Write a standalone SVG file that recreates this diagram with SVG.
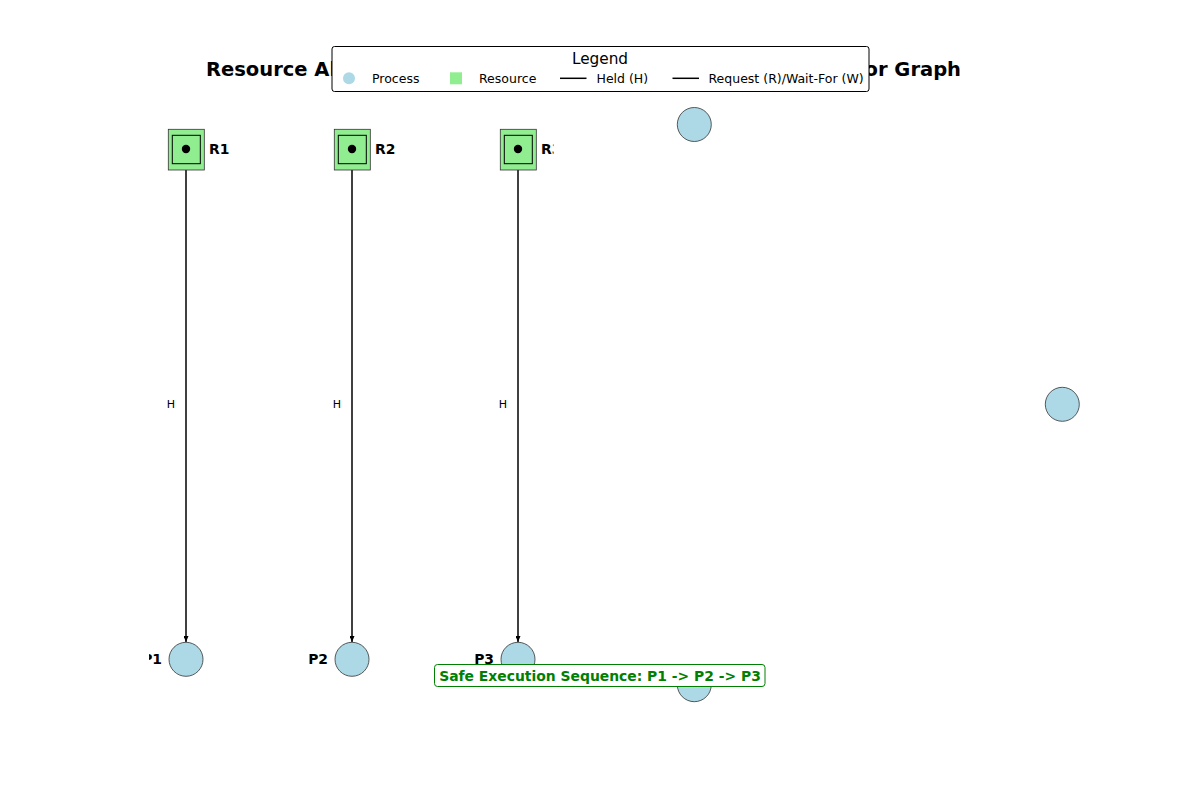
<svg xmlns="http://www.w3.org/2000/svg" width="1200" height="800" viewBox="0 0 1200 800">
<style>
  .title { font-family: "DejaVu Sans", sans-serif; font-weight: bold; font-size: 19.5px; fill: #000; }
  .lbl { font-family: "DejaVu Sans", sans-serif; font-weight: bold; font-size: 13.9px; fill: #000; }
  .elbl { font-family: "DejaVu Sans", sans-serif; font-size: 11.1px; fill: #000; }
  .leg { font-family: "DejaVu Sans", sans-serif; font-size: 12.5px; fill: #000; }
  .legt { font-family: "DejaVu Sans", sans-serif; font-size: 15.3px; fill: #000; }
  .proc { fill: #add8e6; stroke: #333; stroke-width: 0.8; }
  .resout { fill: #90ee90; stroke: #333; stroke-width: 0.8; }
  .resin { fill: #90ee90; stroke: #000; stroke-width: 1; }
  .edge { stroke: #000; stroke-width: 1.5; fill: none; marker-end: url(#arr); }
  .safe { font-family: "DejaVu Sans", sans-serif; font-weight: bold; font-size: 13.9px; fill: #008000; }
</style>
<defs>
  <marker id="arr" viewBox="0 0 6 5" refX="6" refY="2.5" markerWidth="6" markerHeight="5" markerUnits="userSpaceOnUse" orient="auto">
    <path d="M0,0 L6,2.5 L0,5 Z" fill="#000"/>
  </marker>
  <clipPath id="leftAx"><rect x="149" y="0" width="404.5" height="800"/></clipPath>
</defs>
<rect width="1200" height="800" fill="#fff"/>

<g id="titles">
  <text class="title" x="206" y="75.5">Resource Allocation Graph</text>
  <text class="title" x="961" y="75.5" text-anchor="end">Wait-For Graph</text>
</g>

<g id="rag" clip-path="url(#leftAx)">
  <g id="connectors">
    <line class="edge" x1="186" y1="164" x2="186" y2="642"/>
    <text class="elbl" x="171" y="408" text-anchor="middle">H</text>
    <line class="edge" x1="352" y1="164" x2="352" y2="642"/>
    <text class="elbl" x="337" y="408" text-anchor="middle">H</text>
    <line class="edge" x1="518" y1="164" x2="518" y2="642"/>
    <text class="elbl" x="503" y="408" text-anchor="middle">H</text>
  </g>
  <g id="R1">
    <rect class="resout" x="168.3" y="129.3" width="36" height="40.7"/>
    <rect class="resin" x="172.3" y="135.3" width="28" height="28.4"/>
    <circle cx="186" cy="149" r="4.2" fill="#000"/>
    <text class="lbl" x="209" y="153.8">R1</text>
  </g>
  <g id="R2">
    <rect class="resout" x="334.3" y="129.3" width="36" height="40.7"/>
    <rect class="resin" x="338.3" y="135.3" width="28" height="28.4"/>
    <circle cx="352" cy="149" r="4.2" fill="#000"/>
    <text class="lbl" x="375" y="153.8">R2</text>
  </g>
  <g id="R3">
    <rect class="resout" x="500.3" y="129.3" width="36" height="40.7"/>
    <rect class="resin" x="504.3" y="135.3" width="28" height="28.4"/>
    <circle cx="518" cy="149" r="4.2" fill="#000"/>
    <text class="lbl" x="541" y="153.8">R3</text>
  </g>
  <g id="P1">
    <circle class="proc" cx="186" cy="659.3" r="17"/>
    <text class="lbl" x="162" y="664.3" text-anchor="end">P1</text>
  </g>
  <g id="P2">
    <circle class="proc" cx="352" cy="659.3" r="17"/>
    <text class="lbl" x="328" y="664.3" text-anchor="end">P2</text>
  </g>
  <g id="P3">
    <circle class="proc" cx="518" cy="659.3" r="17"/>
    <text class="lbl" x="494" y="664.3" text-anchor="end">P3</text>
  </g>
</g>

<g id="wfg">
  <g id="WP1"><circle class="proc" cx="694.3" cy="124.5" r="17"/></g>
  <g id="WP2"><circle class="proc" cx="1062.3" cy="404.3" r="17"/></g>
  <g id="WP3"><circle class="proc" cx="694.3" cy="684.7" r="17"/></g>
</g>

<g id="legend">
  <rect x="332" y="46.5" width="537" height="45" rx="2.5" fill="#fff" stroke="#000" stroke-width="1"/>
  <text class="legt" x="600" y="64" text-anchor="middle">Legend</text>
  <circle cx="349" cy="78.3" r="6" fill="#add8e6"/>
  <text class="leg" x="372" y="82.7">Process</text>
  <rect x="450" y="72.3" width="12" height="12" fill="#90ee90"/>
  <text class="leg" x="479" y="82.7">Resource</text>
  <line x1="560" y1="78.3" x2="586.5" y2="78.3" stroke="#000" stroke-width="1.5"/>
  <text class="leg" x="596.5" y="82.7">Held (H)</text>
  <line x1="672.5" y1="78.3" x2="699" y2="78.3" stroke="#000" stroke-width="1.5"/>
  <text class="leg" x="708.5" y="82.7">Request (R)/Wait-For (W)</text>
</g>

<g id="safe">
  <rect x="434.5" y="664.5" width="330.5" height="22" rx="3" fill="#fff" stroke="#008000" stroke-width="1"/>
  <text class="safe" x="600" y="680.7" text-anchor="middle">Safe Execution Sequence: P1 -&gt; P2 -&gt; P3</text>
</g>
</svg>
